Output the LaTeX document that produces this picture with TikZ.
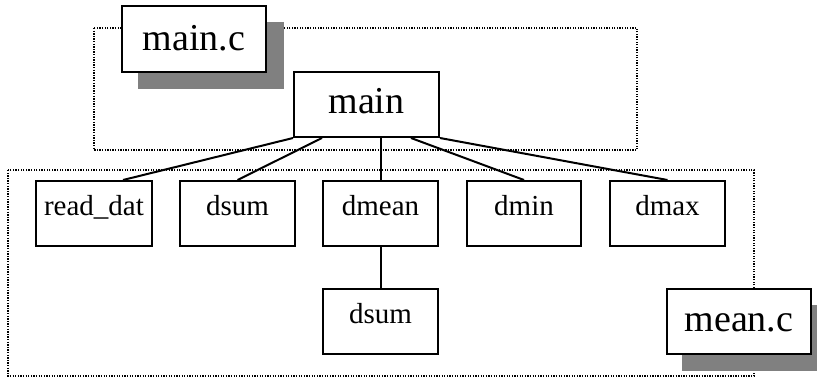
\documentclass[tikz,border=0pt]{standalone}
\usepackage{fontspec}
\setmainfont{Liberation Serif}
\begin{document}
\begin{tikzpicture}[x=1pt,y=-1pt,
  fbox/.style={draw=black, fill=white, line width=2pt, inner sep=0pt,
    minimum height=65pt, font=\fontsize{29}{31}\selectfont,
    text height=14pt, text depth=11pt},
  bigbox/.style={fbox, font=\fontsize{38}{40}\selectfont},
  shadowbox/.style={fill=black!50, draw=none},
  group/.style={draw=black, line width=1.3pt, dash pattern=on 1.3pt off 1.3pt},
  conn/.style={draw=black, line width=2pt}]
\useasboundingbox (0,0) rectangle (817,378);
% group frames
\draw[group] (94,28) rectangle (637,150);
\draw[group] (8,170) rectangle (754,376);
% shadows
\fill[shadowbox] (138,22) rectangle (284,89);
\fill[shadowbox] (682,305) rectangle (830,371);
% file label boxes
\node[bigbox, minimum width=144pt, minimum height=66pt, text height=26pt, text depth=4pt] (mainc) at (194,39) {main.c};
\node[bigbox, minimum width=144pt, text height=25pt, text depth=6pt] (meanc) at (739,321.5) {mean.c};
% function boxes
\node[bigbox, minimum width=145pt, text height=24pt, text depth=7pt] (main) at (366.5,104.5) {main};
\node[fbox, minimum width=116pt] (rd) at (94,213.5) {read\_dat};
\node[fbox, minimum width=115pt] (ds) at (237.5,213.5) {dsum};
\node[fbox, minimum width=115pt] (dm) at (380.5,213.5) {dmean};
\node[fbox, minimum width=114pt] (dn) at (524,213.5) {dmin};
\node[fbox, minimum width=115pt] (dx) at (667.5,213.5) {dmax};
\node[fbox, minimum width=115pt] (ds2) at (380.5,321.5) {dsum};
% connectors
\draw[conn] (main.south west) -- ([xshift=29pt]rd.north);
\draw[conn] ([xshift=29pt]main.south west) -- (ds.north);
\draw[conn] (dm.north |- main.south) -- (dm.north);
\draw[conn] ([xshift=-29pt]main.south east) -- (dn.north);
\draw[conn] (main.south east) -- (dx.north);
\draw[conn] (dm.south) -- (ds2.north);
\end{tikzpicture}
\end{document}
